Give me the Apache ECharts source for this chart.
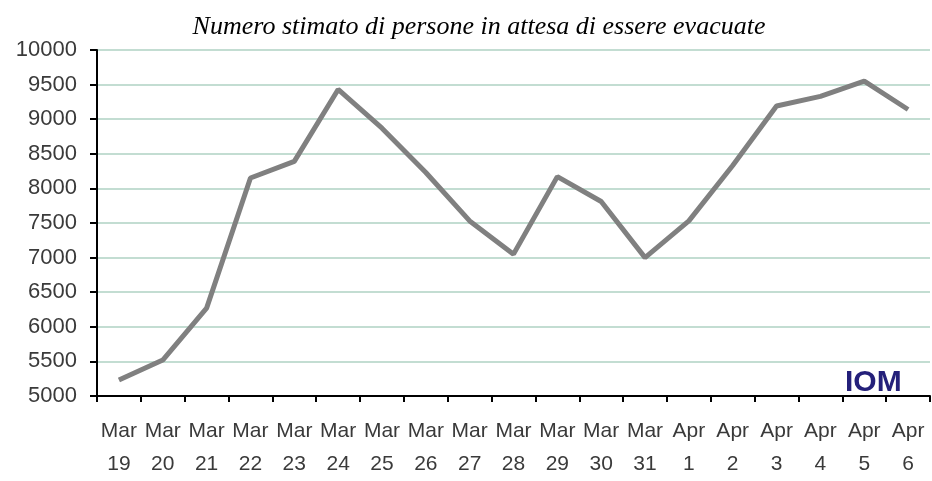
<!DOCTYPE html>
<html>
<head>
<meta charset="utf-8">
<script src="https://cdn.jsdelivr.net/npm/echarts@6/dist/echarts.min.js"></script>
<style>html,body{margin:0;padding:0;background:#fff}#c{width:932px;height:481px}</style>
</head>
<body>
<div id="c"></div>
<script>
const titleText = "Numero stimato di persone in attesa di essere evacuate";
const categories = ["Mar\n19","Mar\n20","Mar\n21","Mar\n22","Mar\n23","Mar\n24","Mar\n25","Mar\n26","Mar\n27","Mar\n28","Mar\n29","Mar\n30","Mar\n31","Apr\n1","Apr\n2","Apr\n3","Apr\n4","Apr\n5","Apr\n6"];
const values = [5230, 5520, 6270, 8150, 8390, 9430, 8870, 8230, 7530, 7050, 8170, 7810, 7000, 7530, 8330, 9190, 9330, 9550, 9140];
const yMin = 5000, yMax = 10000, yStep = 500;
const sourceLabel = "IOM";

const chart = echarts.init(document.getElementById('c'), null, {renderer: 'canvas'});
chart.setOption({
  animation: false,
  backgroundColor: '#ffffff',
  title: {
    text: titleText,
    left: 474, top: 9, textAlign: 'center',
    textStyle: {fontFamily: 'Liberation Serif', fontStyle: 'italic', fontWeight: 'normal', fontSize: 26, color: '#000'}
  },
  grid: {left: 97, right: 2, top: 50, bottom: 81, containLabel: false},
  xAxis: {
    type: 'category',
    data: categories,
    boundaryGap: true,
    axisLine: {lineStyle: {color: '#000', width: 2}},
    axisTick: {show: true, length: 6, lineStyle: {color: '#000', width: 2}},
    axisLabel: {interval: 0, margin: 19, fontFamily: 'Liberation Sans', fontSize: 21, lineHeight: 33, color: '#3a3a3a'},
    splitLine: {show: false}
  },
  yAxis: {
    type: 'value',
    min: yMin, max: yMax, interval: yStep,
    axisLine: {show: true, lineStyle: {color: '#000', width: 2}},
    axisTick: {show: true, length: 7, lineStyle: {color: '#000', width: 2}},
    axisLabel: {margin: 20, fontFamily: 'Liberation Sans', fontSize: 22, color: '#3a3a3a', formatter: function (v) { return String(v); }},
    splitLine: {show: true, lineStyle: {color: '#c3ddd2', width: 2}}
  },
  graphic: [{
    type: 'text', left: 845, top: 368,
    style: {text: sourceLabel, fontFamily: 'Liberation Sans', fontWeight: 'bold', fontSize: 30, fill: '#24207a'}
  }],
  series: [{
    type: 'line',
    data: values,
    symbol: 'none',
    lineStyle: {color: '#808080', width: 5},
    z: 3
  }]
});
</script>
</body>
</html>
